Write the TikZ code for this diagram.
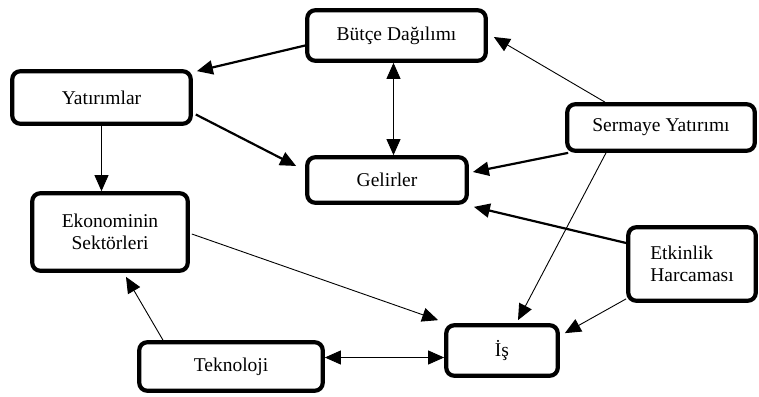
\documentclass[tikz,border=0pt]{standalone}
\usepackage{fontspec}
\setmainfont{Liberation Serif}
\usetikzlibrary{arrows.meta}
\begin{document}
\begin{tikzpicture}[x=1pt,y=-1pt,
  box/.style={draw, line width=4.2pt, rounded corners=8pt, inner sep=0pt, align=center,
    font=\fontsize{19.5}{21.5}\selectfont},
  thin/.style={line width=0.9pt, -{Triangle[length=16pt,width=14pt]}},
  thick/.style={line width=2.2pt, -{Triangle[length=16pt,width=14pt]}},
  thinboth/.style={line width=0.9pt, {Triangle[length=16pt,width=14pt]}-{Triangle[length=16pt,width=14pt]}}]
\useasboundingbox (0,0) rectangle (759,396);
\node[box, minimum width=178.5pt, minimum height=50.5pt] (but) at (396.5,35.5) {Bütçe Dağılımı};
\node[box, minimum width=178.5pt, minimum height=52.5pt] (yat) at (101.5,97.5) {Yatırımlar};
\node[box, minimum width=159.5pt, minimum height=45.5pt] (gel) at (387,180) {Gelirler};
\node[box, minimum width=187.5pt, minimum height=46.5pt] (ser) at (661,127.5) {Sermaye Yatırımı};
\node[box, minimum width=155.5pt, minimum height=77.5pt] (eko) at (110,232) {Ekonominin\\Sektörleri};
\node[box, minimum width=183.5pt, minimum height=48.5pt] (tek) at (231,366.5) {Teknoloji};
\node[box, minimum width=111.5pt, minimum height=50.5pt] (is) at (502,350.5) {İş};
\node[box, minimum width=127.5pt, minimum height=73.5pt, align=left] (etk) at (692,264) {Etkinlik\\Harcaması};

\draw[thick] ([yshift=-10pt]but.west) -- ([xshift=4pt,yshift=-2pt]yat.north east);
\draw[thick] ([xshift=3pt,yshift=-17pt]yat.east) -- ([xshift=-9pt,yshift=14pt]gel.west);
\draw[thin] (yat.south) -- (yat.south |- eko.north);
\draw[thinboth] ([xshift=-3pt]but.south) -- ([xshift=-3pt]but.south |- gel.north);
\draw[thin] ([xshift=-56pt]ser.north) -- ([xshift=6pt,yshift=-1.5pt]but.east);
\draw[thick] ([xshift=3pt]ser.south west) -- ([xshift=4pt,yshift=8pt]gel.east);
\draw[thin] ([xshift=-55pt]ser.south) -- ([xshift=16pt,yshift=3pt]is.north);
\draw[thick] ([yshift=21pt]etk.west) -- ([xshift=5pt,yshift=-2pt]gel.south east);
\draw[thin] ([yshift=4pt]etk.south west) -- ([xshift=5pt,yshift=-10pt]is.north east);
\draw[thin] ([xshift=2pt,yshift=-2pt]eko.east) -- ([xshift=-6pt,yshift=3pt]is.north west);
\draw[thin] ([xshift=-68pt]tek.north) -- ([xshift=16pt,yshift=-4pt]eko.south);
\draw[thinboth] ([yshift=9pt]tek.east) -- ([yshift=9pt]tek.east -| is.west);
\end{tikzpicture}
\end{document}
